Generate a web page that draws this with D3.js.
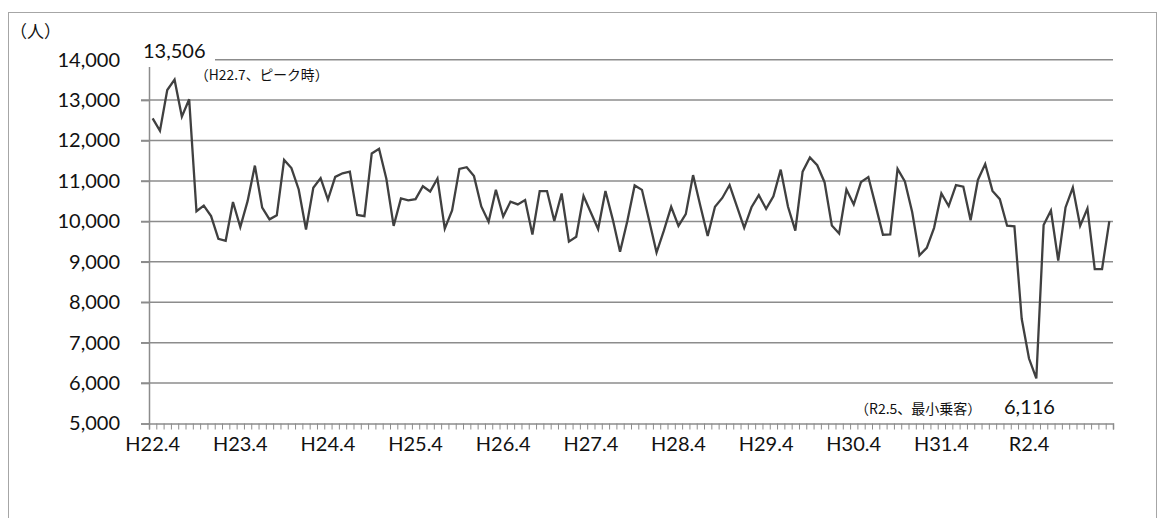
<!DOCTYPE html>
<html>
<head>
<meta charset="utf-8">
<script src="https://cdn.jsdelivr.net/npm/d3@7"></script>
<style>
  html, body { margin: 0; padding: 0; background: #fff; }
  svg { display: block; }
</style>
</head>
<body>
<svg id="chart" width="1159" height="518"></svg>
<script>
// ---- data ----
const fiscalYears = [2010, 2011, 2012, 2013, 2014, 2015, 2016, 2017, 2018, 2019, 2020];
const monthOrder = [4, 5, 6, 7, 8, 9, 10, 11, 12, 1, 2, 3];
const tickLabels = ["H22.4", "H23.4", "H24.4", "H25.4", "H26.4", "H27.4", "H28.4", "H29.4", "H30.4", "H31.4", "R2.4"];
const passengers = [
  12550, 12240, 13250, 13506, 12590, 13020, 10250, 10390, 10130, 9570, 9520, 10480,
  9860, 10500, 11380, 10340, 10050, 10150, 11520, 11320, 10790, 9800, 10830, 11070,
  10540, 11100, 11190, 11230, 10160, 10130, 11680, 11795, 11055, 9890, 10570, 10520,
  10550, 10870, 10740, 11060, 9820, 10270, 11300, 11340, 11120, 10370, 9990, 10780,
  10120, 10490, 10420, 10530, 9675, 10750, 10750, 10010, 10690, 9500, 9620, 10630,
  10220, 9810, 10750, 10050, 9250, 10010, 10890, 10780, 10010, 9230, 9770, 10360,
  9890, 10180, 11145, 10380, 9640, 10360, 10580, 10900, 10370, 9840, 10350, 10650,
  10310, 10620, 11280, 10360, 9770, 11230, 11580, 11390, 10970, 9900, 9700, 10790,
  10420, 10975, 11096, 10390, 9670, 9680, 11300, 10990, 10230, 9160, 9345, 9840,
  10690, 10380, 10900, 10860, 10030, 11025, 11418, 10754, 10550, 9893, 9877, 7590,
  6607, 6116, 9910, 10270, 9030, 10345, 10836, 9890, 10320, 8820, 8820, 10008
];
const yTicks = [5000, 6000, 7000, 8000, 9000, 10000, 11000, 12000, 13000, 14000];
const unitLabel = "（人）";
const peakValue = "13,506";
const peakNote = "（H22.7、ピーク時）";
const minValue = "6,116";
const minNote = "（R2.5、最小乗客）";

// category keys (fiscal-year months)
const categories = [];
fiscalYears.forEach(fy => monthOrder.forEach(m => categories.push((m >= 4 ? fy : fy + 1) + "-" + m)));

const data = categories.map((c, i) => ({ c, v: passengers[i] }));

// ---- layout ----
const svg = d3.select("#chart");
const plotLeft = 149, plotRight = 1113, plotTop = 59.7, plotBottom = 423.5;
const latin = "Lato, 'Noto Sans', sans-serif";
const cjk = "'Noto Sans CJK JP', 'Noto Sans', sans-serif";

const x = d3.scaleBand().domain(categories).range([plotLeft, plotRight]).paddingInner(0).paddingOuter(0);
const y = d3.scaleLinear().domain([5000, 14000]).range([plotBottom, plotTop]);

// frame
svg.append("rect").attr("x", 8.5).attr("y", 12.5).attr("width", 1148).attr("height", 530)
  .attr("fill", "none").attr("stroke", "#a6a6a6").attr("stroke-width", 1);

const gridColor = "#8c8c8c";

// gridlines
svg.append("g").selectAll("line").data(yTicks.slice(1)).join("line")
  .attr("x1", plotLeft - 8).attr("x2", plotRight)
  .attr("y1", d => y(d)).attr("y2", d => y(d))
  .attr("stroke", gridColor).attr("stroke-width", 1.5);

// y axis
const yAxis = svg.append("g").attr("transform", `translate(${plotLeft},0)`)
  .call(d3.axisLeft(y).tickValues(yTicks).tickSize(8).tickPadding(21).tickFormat(d3.format(",")));
yAxis.select(".domain").attr("stroke", gridColor).attr("stroke-width", 1.5);
yAxis.selectAll(".tick line").attr("stroke", gridColor).attr("stroke-width", 1.5);
yAxis.selectAll(".tick text").attr("font-family", latin).attr("font-size", 20).attr("fill", "#111");

// x axis: monthly minor ticks at category boundaries
const xb = d3.scaleLinear().domain([0, categories.length]).range([plotLeft, plotRight]);
const xAxis = svg.append("g").attr("transform", `translate(0,${plotBottom})`)
  .call(d3.axisBottom(xb).tickValues(d3.range(0, categories.length + 1)).tickSize(6).tickFormat(""));
xAxis.select(".domain").attr("stroke", gridColor).attr("stroke-width", 1.5);
xAxis.selectAll(".tick line").attr("stroke", gridColor).attr("stroke-width", 1);

// x labels at every April (category centers)
const labelCats = categories.filter((c, i) => i % 12 === 0);
const xl = svg.append("g").attr("transform", `translate(0,${plotBottom})`)
  .call(d3.axisBottom(x).tickValues(labelCats).tickSize(0).tickPadding(13)
    .tickFormat((d, i) => tickLabels[i]));
xl.select(".domain").remove();
xl.selectAll(".tick text").attr("font-family", latin).attr("font-size", 20).attr("fill", "#111");

// data line
const line = d3.line().x(d => x(d.c) + x.bandwidth() / 2).y(d => y(d.v));
svg.append("path").datum(data).attr("d", line)
  .attr("fill", "none").attr("stroke", "#404040").attr("stroke-width", 2.3)
  .attr("stroke-linejoin", "miter");

// peak annotation (white box behind the value)
svg.append("rect").attr("x", 139).attr("y", 38).attr("width", 76).attr("height", 29).attr("fill", "#fff");
svg.append("text").attr("x", 143).attr("y", 58).text(peakValue)
  .attr("font-family", latin).attr("font-size", 20).attr("fill", "#111");
svg.append("text").attr("x", 195).attr("y", 80).text(peakNote)
  .attr("font-family", cjk).attr("font-size", 13.8).attr("fill", "#111");

// min annotation
svg.append("text").attr("x", 855).attr("y", 414).text(minNote)
  .attr("font-family", cjk).attr("font-size", 14).attr("fill", "#111");
svg.append("text").attr("x", 1004).attr("y", 414).text(minValue)
  .attr("font-family", latin).attr("font-size", 20).attr("fill", "#111");

// unit label
svg.append("text").attr("x", 10).attr("y", 38).text(unitLabel)
  .attr("font-family", cjk).attr("font-size", 17).attr("fill", "#111");
</script>
</body>
</html>
